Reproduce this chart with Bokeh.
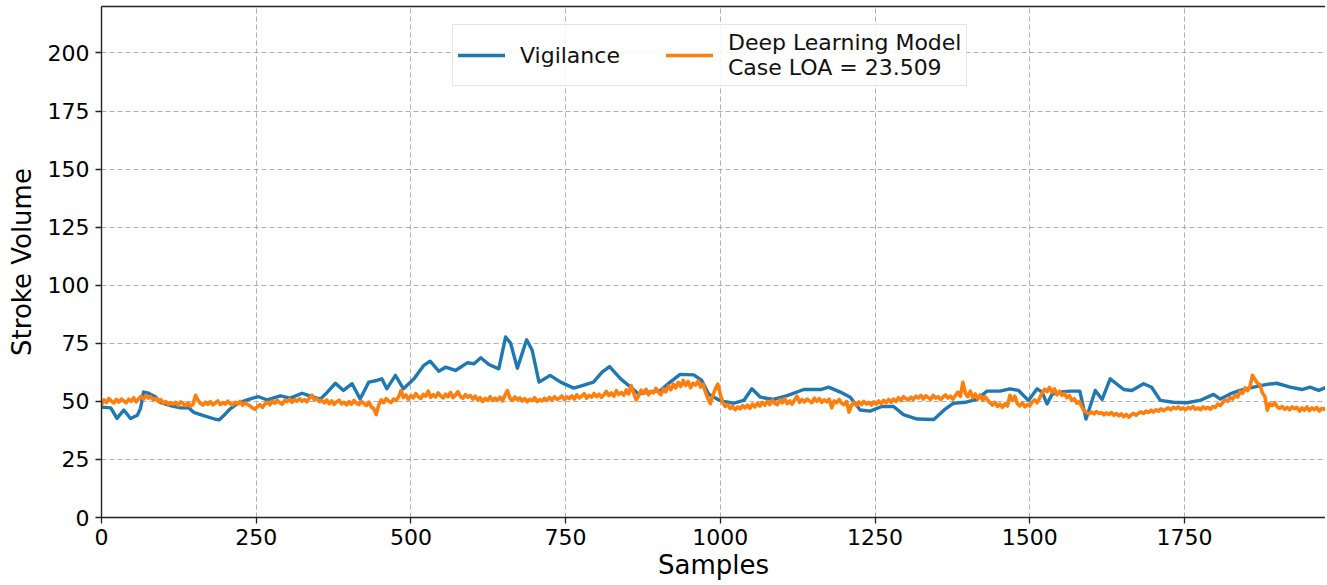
from bokeh.plotting import figure
from bokeh.models import Range1d, FixedTicker, LinearAxis, Legend, LegendItem
from bokeh.embed import file_html
from bokeh.resources import INLINE

# ---- data ----
x_tick_values = [0, 250, 500, 750, 1000, 1250, 1500, 1750]
y_tick_values = [0, 25, 50, 75, 100, 125, 150, 175, 200]

series_names = ["Vigilance", "Deep Learning Model\nCase LOA = 23.509"]

vig_x = [0, 15, 25, 36, 47, 58, 63, 68, 76, 87, 95, 111, 128, 141, 149, 165, 184, 190, 198, 208,
         219, 233, 246, 254, 268, 289, 305, 324, 340, 354, 365, 378, 391, 405, 418, 432, 445, 453,
         461, 475, 488, 505, 521, 531, 545, 556, 572, 591, 602, 613, 626, 642, 653, 661, 672, 687,
         696, 707, 725, 742, 763, 777, 795, 809, 821, 839, 852, 868, 884, 903, 919, 935, 957, 970,
         981, 995, 1005, 1022, 1038, 1051, 1065, 1086, 1108, 1135, 1162, 1175, 1194, 1210, 1226,
         1242, 1261, 1280, 1296, 1318, 1345, 1364, 1377, 1396, 1415, 1431, 1452, 1468, 1482, 1498,
         1512, 1520, 1528, 1536, 1547, 1565, 1581, 1591, 1606, 1617, 1630, 1652, 1665, 1684, 1697,
         1711, 1732, 1754, 1775, 1797, 1808, 1824, 1840, 1862, 1883, 1899, 1921, 1940, 1953, 1967,
         1983]
vig_y = [47.5, 47.2, 42.7, 46.3, 42.6, 44.0, 47.0, 54.0, 53.5, 52.0, 49.6, 48.2, 47.2, 47.2, 45.3,
         43.9, 42.3, 42.0, 44.0, 46.8, 48.9, 50.4, 51.5, 52.0, 50.6, 52.4, 51.4, 53.5, 52.0, 51.0,
         54.0, 57.8, 54.7, 57.6, 51.0, 58.3, 59.0, 59.7, 55.4, 61.2, 55.4, 59.7, 65.5, 67.3, 63.0,
         64.7, 63.3, 66.6, 66.2, 68.8, 65.9, 64.0, 77.7, 75.1, 64.3, 76.5, 72.0, 58.3, 61.2, 58.3,
         55.7, 56.8, 58.3, 62.6, 65.0, 59.7, 56.8, 53.2, 54.0, 54.7, 58.3, 61.6, 61.4, 59.0, 53.2,
         51.0, 50.0, 49.2, 50.4, 55.4, 51.8, 50.8, 52.5, 55.1, 55.1, 56.1, 54.0, 51.8, 46.3, 45.8,
         47.8, 47.8, 44.3, 42.4, 42.2, 46.8, 49.2, 49.6, 51.0, 54.4, 54.4, 55.4, 54.7, 50.4, 55.4,
         54.0, 48.9, 53.0, 54.0, 54.4, 54.4, 42.4, 54.7, 50.8, 59.7, 55.1, 54.7, 57.6, 56.1, 50.4,
         49.6, 49.4, 50.4, 53.0, 51.0, 53.2, 54.7, 56.1, 57.3, 57.8, 56.1, 55.1, 56.1, 54.7, 56.4]

dl_step = 4
dl_y = [
    48.4, 50.6, 49.5, 51.2, 50.1, 49.3, 50.8, 49.7, 51.0, 50.2,
    49.4, 50.9, 50.0, 51.6, 49.8, 51.1, 52.2, 51.0, 52.6, 51.4,
    52.0, 50.6, 51.3, 49.9, 50.7, 49.2, 49.9, 48.6, 49.5, 48.8,
    49.6, 48.3, 49.8, 48.9, 48.2, 49.4, 47.9, 48.8, 52.6, 50.4,
    49.1, 48.4, 49.7, 48.7, 49.9, 48.5, 49.3, 50.2, 48.6, 49.5,
    48.8, 50.1, 49.0, 48.4, 49.6, 48.9, 50.0, 48.3, 49.4, 48.7,
    48.0, 47.2, 46.6, 47.8, 48.6, 47.4, 48.9, 49.6, 48.5, 50.1,
    49.2, 50.4, 49.5, 48.8, 50.3, 49.9, 51.0, 49.6, 50.8, 50.0,
    51.2, 50.1, 50.7, 49.8, 51.4, 52.7, 50.6, 51.2, 49.9, 50.5,
    49.4, 50.6, 49.0, 50.2, 48.7, 49.8, 50.5, 48.9, 49.6, 48.5,
    49.9, 48.8, 50.4, 49.2, 48.6, 50.0, 49.1, 48.2, 49.7, 47.6,
    46.8, 44.3, 48.5, 50.6, 49.4, 51.2, 50.2, 49.5, 51.0, 50.4,
    51.8, 54.6, 51.6, 52.8, 50.9, 52.4, 51.5, 53.3, 52.0, 51.2,
    53.0, 52.2, 54.4, 51.7, 52.9, 51.9, 53.6, 52.4, 51.5, 53.1,
    52.0, 53.8, 51.6, 52.7, 54.2, 52.1, 51.3, 52.9, 51.8, 52.5,
    51.0, 52.2, 50.6, 51.6, 49.9, 51.3, 50.5, 52.0, 50.3, 51.4,
    50.6, 51.8, 50.2, 52.6, 54.6, 51.4, 50.4, 51.9, 50.7, 51.5,
    50.1, 51.2, 49.8, 50.9, 50.3, 51.6, 49.9, 50.8, 50.2, 51.3,
    50.4, 51.7, 50.6, 52.0, 50.9, 51.4, 52.3, 50.8, 51.9, 51.2,
    52.4, 51.0, 52.8, 51.5, 52.2, 53.3, 51.4, 52.6, 51.8, 53.4,
    52.0, 53.1, 51.7, 52.9, 54.3, 52.5, 53.6, 52.2, 54.6, 53.0,
    53.8, 52.6, 54.9, 53.2, 56.8, 53.6, 50.6, 52.3, 54.8, 53.4,
    55.2, 52.8, 54.4, 53.6, 55.6, 54.0, 52.9, 55.4, 54.1, 56.6,
    55.0, 57.4, 55.8, 58.2, 56.4, 59.0, 56.8, 58.6, 55.9, 57.8,
    57.0, 58.8, 56.2, 57.4, 54.0, 51.2, 49.0, 52.6, 55.4, 57.4,
    53.0, 49.4, 47.8, 48.6, 46.9, 47.8, 46.4, 47.6, 46.8, 48.2,
    47.2, 48.4, 47.0, 48.8, 47.6, 49.2, 48.0, 49.6, 48.4, 50.0,
    48.6, 50.4, 49.2, 48.5, 50.6, 49.4, 51.2, 49.0, 50.2, 48.8,
    50.6, 52.2, 49.6, 50.8, 49.8, 51.0, 50.2, 49.4, 51.4, 50.0,
    51.2, 49.6, 50.6, 49.8, 51.0, 47.2, 50.2, 49.4, 50.8, 49.2,
    48.6, 50.0, 45.4, 48.4, 49.6, 48.2, 49.8, 48.6, 50.0, 48.8,
    49.6, 48.4, 49.8, 48.8, 50.2, 49.0, 50.4, 49.4, 50.8, 49.6,
    51.0, 50.0, 51.6, 50.4, 52.0, 51.2, 50.6, 51.8, 50.8, 52.2,
    51.4, 52.6, 51.0, 52.4, 51.6, 50.8, 52.6, 51.4, 52.0, 50.8,
    51.8, 52.8, 51.4, 52.2, 51.0, 52.6, 54.0, 52.2, 58.2, 53.6,
    52.0, 54.4, 51.6, 53.2, 51.0, 52.8, 50.4, 52.0, 50.6, 49.4,
    48.4, 49.6, 47.8, 48.8, 47.4, 49.0, 48.0, 52.6, 50.4, 52.2,
    49.0, 48.0, 49.4, 47.6, 48.6, 48.0, 49.8, 50.6, 49.4, 51.4,
    53.6, 55.2, 54.2, 56.0, 53.8, 55.4, 52.8, 54.4, 52.6, 53.4,
    51.6, 52.6, 50.4, 51.2, 49.2, 50.0, 47.8, 45.8, 45.2, 44.6,
    45.4, 44.6, 45.6, 44.8, 45.2, 44.2, 45.0, 44.4, 45.2, 44.0,
    44.8, 43.8, 44.6, 43.4, 44.4, 43.2, 44.2, 44.8, 44.0, 45.0,
    45.4, 44.8, 45.8, 45.2, 46.2, 45.4, 46.4, 45.8, 46.8, 46.0,
    46.6, 47.2, 46.4, 47.4, 46.8, 47.6, 46.6, 47.2, 46.4, 47.4,
    46.8, 47.8, 46.6, 47.2, 46.4, 47.6, 46.8, 47.4, 46.6, 47.8,
    47.4, 48.8, 48.2, 49.6, 50.6, 50.0, 51.6, 51.0, 52.6, 51.8,
    54.2, 53.4, 55.8, 54.6, 56.4, 61.2, 59.4, 57.8, 57.2, 53.6,
    52.2, 46.2, 49.0, 48.2, 49.4, 47.6, 47.0, 47.8, 46.6, 47.4,
    46.4, 47.6, 46.8, 47.4, 45.8, 47.2, 46.2, 47.6, 46.0, 47.2,
    46.4, 47.4, 45.8, 47.0, 46.6, 47.2,
]
dl_x = [i * dl_step for i in range(len(dl_y))]

# ---- figure ----
FONT = "DejaVu Sans"

p = figure(width=1325, height=585,
           x_range=Range1d(0, 1978), y_range=Range1d(0, 220),
           output_backend="svg", toolbar_location=None,
           min_border_left=101, min_border_right=0, min_border_top=6, min_border_bottom=68,
           x_axis_label="Samples", y_axis_label="Stroke Volume")

p.background_fill_color = "white"
p.border_fill_color = "white"
p.outline_line_color = None

for ax in (p.xaxis[0], p.yaxis[0]):
    ax.axis_line_color = "#222222"
    ax.axis_line_width = 1.4
    ax.major_tick_line_color = "#222222"
    ax.major_tick_line_width = 1.3
    ax.major_tick_out = 6
    ax.major_tick_in = 0
    ax.minor_tick_out = 0
    ax.minor_tick_in = 0
    ax.major_label_text_font = FONT
    ax.major_label_text_font_size = "22px"
    ax.major_label_text_color = "black"
    ax.axis_label_text_font = FONT
    ax.axis_label_text_font_size = "26px"
    ax.axis_label_text_font_style = "normal"
    ax.axis_label_text_color = "black"

p.xaxis.ticker = FixedTicker(ticks=x_tick_values)
p.yaxis.ticker = FixedTicker(ticks=y_tick_values)
p.xaxis.major_label_standoff = 5
p.xaxis.axis_label_standoff = 2
p.yaxis.major_label_standoff = 6
p.yaxis.axis_label_standoff = 8

top = LinearAxis(ticker=FixedTicker(ticks=[]), major_label_text_font_size="0px",
                 major_tick_out=0, major_tick_in=0, minor_tick_out=0, minor_tick_in=0,
                 major_label_standoff=0, axis_line_color="#222222", axis_line_width=1.4)
p.add_layout(top, "above")

p.xgrid.ticker = FixedTicker(ticks=x_tick_values)
p.ygrid.ticker = FixedTicker(ticks=y_tick_values)
for g in (p.xgrid[0], p.ygrid[0]):
    g.grid_line_color = "#b0b0b0"
    g.grid_line_width = 1
    g.grid_line_dash = "5 3"

r_vig = p.line(vig_x, vig_y, line_color="#1f77b4", line_width=3.4, line_join="round", line_cap="round")
r_dl = p.line(dl_x, dl_y, line_color="#ff7f0e", line_width=3.6, line_join="round", line_cap="round")

legend = Legend(items=[LegendItem(label=series_names[0], renderers=[r_vig]),
                       LegendItem(label=series_names[1], renderers=[r_dl])],
                orientation="horizontal", location=(351, 431))
legend.label_text_font = FONT
legend.label_text_font_size = "22px"
legend.label_text_color = "#111111"
legend.glyph_width = 47
legend.glyph_height = 20
legend.label_standoff = 15
legend.spacing = 46
legend.padding = 5
legend.border_line_color = "#cccccc"
legend.border_line_width = 1.2
legend.background_fill_alpha = 0.85
p.add_layout(legend, "center")

open("out.html", "w").write(file_html(p, INLINE))
